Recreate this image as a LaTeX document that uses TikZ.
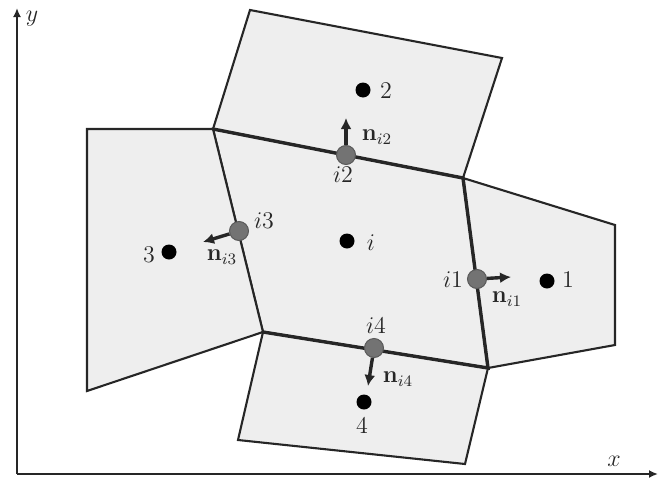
\documentclass[tikz,border=0pt]{standalone}
\usetikzlibrary{arrows.meta}
\begin{document}
\begin{tikzpicture}[x=0.5pt, y=-0.5pt,
  cell/.style={draw=black!85, line width=1.05pt, fill=gray!13, line join=miter},
  iface/.style={draw=black!85, line width=1.7pt, line cap=round},
  ctr/.style={circle, fill=black, inner sep=0pt, minimum size=7.5pt},
  fpt/.style={circle, fill=black!55, draw=black!65, line width=0.5pt, inner sep=0pt, minimum size=9.5pt},
  nrm/.style={-{Latex[length=5.5pt,width=5.5pt]}, line width=1.7pt, black!85},
  lbl/.style={font=\fontsize{12}{14}\selectfont, text=black!85, inner sep=0pt},
  axis/.style={-{Latex[length=4.5pt,width=4pt]}, line width=1.3pt, black!85}]
\useasboundingbox (0,0) rectangle (659,477);

% vertices of the central cell and its neighbours
\coordinate (A) at (213,129);
\coordinate (B) at (463,178);
\coordinate (C) at (488,368);
\coordinate (D) at (263,332);
\coordinate (E) at (250,10);
\coordinate (F) at (502,58);
\coordinate (G) at (87,129);
\coordinate (H) at (87,391);
\coordinate (I) at (615,225);
\coordinate (J) at (615,345);
\coordinate (K) at (465,464);
\coordinate (L) at (238,440);

% axes
\coordinate (O) at (17,474);
\coordinate (xend) at (658,474);
\coordinate (yend) at (17,8);
\draw[axis] (O) -- (xend);
\draw[axis] (O) -- (yend);
\node[lbl] (xlab) at (614,461) {$x$};
\node[lbl] (ylab) at (32,19) {$y$};

% cells
\draw[cell] (A) -- (B) -- (C) -- (D) -- cycle;
\draw[cell] (A) -- (E) -- (F) -- (B) -- cycle;
\draw[cell] (G) -- (A) -- (D) -- (H) -- cycle;
\draw[cell] (B) -- (I) -- (J) -- (C) -- cycle;
\draw[cell] (D) -- (C) -- (K) -- (L) -- cycle;
\draw[iface] (A) -- (B) -- (C) -- (D);

% cell centres
\node[ctr] (ci) at (347,241) {};
\node[ctr] (c1) at (547,281) {};
\node[ctr] (c2) at (363,90) {};
\node[ctr] (c3) at (169,252) {};
\node[ctr] (c4) at (364,402) {};
\node[lbl] (ti) at (371,243) {$i$};
\node[lbl] (t1) at (568,280) {1};
\node[lbl] (t2) at (386,91) {2};
\node[lbl] (t3) at (149,255) {3};
\node[lbl] (t4) at (362,425) {4};

% face points
\node[fpt] (f1) at (477,279) {};
\node[fpt] (f2) at (346,155) {};
\node[fpt] (f3) at (239,231) {};
\node[fpt] (f4) at (374,348) {};
\node[lbl] (tf1) at (453,280) {$i1$};
\node[lbl] (tf2) at (343,175) {$i2$};
\node[lbl] (tf3) at (264,221) {$i3$};
\node[lbl] (tf4) at (376,326) {$i4$};

% normals
\coordinate (n1) at (511,277);
\coordinate (n2) at (346,118);
\coordinate (n3) at (203,242);
\coordinate (n4) at (368,386);
\draw[nrm] (f1) -- (n1);
\draw[nrm] (f2) -- (n2);
\draw[nrm] (f3) -- (n3);
\draw[nrm] (f4) -- (n4);
\node[lbl] (tn1) at (507,299) {$\mathbf{n}_{i1}$};
\node[lbl] (tn2) at (377,137) {$\mathbf{n}_{i2}$};
\node[lbl] (tn3) at (222,257) {$\mathbf{n}_{i3}$};
\node[lbl] (tn4) at (398,379) {$\mathbf{n}_{i4}$};

\end{tikzpicture}
\end{document}
